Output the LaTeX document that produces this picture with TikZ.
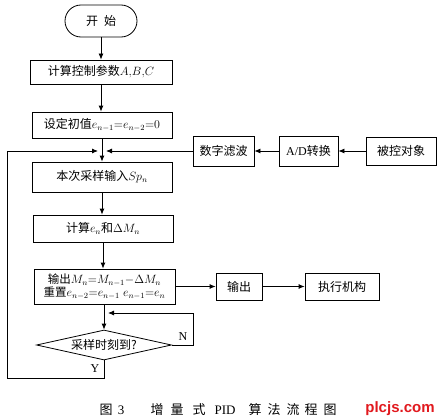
\documentclass[tikz,border=0pt]{standalone}
\usepackage{fontspec}
\setmainfont{Liberation Serif}
\newfontfamily\cjk{Noto Sans CJK SC}
\newfontfamily\websans{Liberation Sans}
\usetikzlibrary{shapes.geometric,arrows.meta}
\definecolor{webred}{RGB}{225,25,30}
\begin{document}
\begin{tikzpicture}[x=1pt,y=-1pt,
  box/.style={draw,line width=0.8pt,inner sep=0pt,font=\cjk\fontsize{12}{15}\selectfont},
  arr/.style={-{Latex[length=6pt,width=5pt]},line width=0.8pt},
  lbl/.style={inner sep=0pt,font=\rmfamily\fontsize{12}{14}\selectfont},
  captext/.style={inner sep=0pt,font=\cjk\fontsize{13}{15}\selectfont}]
\useasboundingbox (0,0) rectangle (442,420);
% main column
\node[box,rounded corners=16pt,minimum width=72pt,minimum height=32pt] (start) at (101,21) {开\hspace{6pt}始};
\node[box,minimum width=142pt,minimum height=24pt] (b1) at (101,72) {计算控制参数$A{,}B{,}C$};
\node[box,minimum width=140pt,minimum height=26pt] (b2) at (102,125) {设定初值$e_{n-1}{=}e_{n-2}{=}0$};
\node[box,minimum width=140pt,minimum height=30pt] (b3) at (102,177) {本次采样输入$Sp_n$};
\node[box,minimum width=140pt,minimum height=27pt] (b4) at (103,228.5) {计算$e_n$和$\Delta M_n$};
\node[box,minimum width=141pt,minimum height=35pt,align=center,font=\cjk\fontsize{11.5}{14}\selectfont] (b5) at (104.5,286.5) {输出$M_n{=}M_{n-1}{-}\Delta M_n$\\[-1pt]重置$e_{n-2}{=}e_{n-1}\;e_{n-1}{=}e_n$};
\node[box,diamond,aspect=4.5,minimum width=135pt,minimum height=30pt] (dia) at (104,345) {采样时刻到?};
% right side
\node[box,minimum width=61pt,minimum height=30pt] (filt) at (223.5,151) {数字滤波};
\node[box,minimum width=59pt,minimum height=30pt] (ad) at (308.5,151) {{\rmfamily A/D}转换};
\node[box,minimum width=70pt,minimum height=28pt] (plant) at (401,151) {被控对象};
\node[box,minimum width=46pt,minimum height=27pt] (outb) at (239,286.5) {输出};
\node[box,minimum width=74pt,minimum height=27pt] (act) at (342,286.5) {执行机构};
% junction coordinates
\coordinate (j1l) at (98,151);
\coordinate (j1r) at (106,151);
\coordinate (j2r) at (108,313);
\coordinate (ly) at (7,378);
\coordinate (nx) at (193,330);
% connectors
\draw[arr] (start.south) -- (b1.north);
\draw[arr] (b1.south) -- (b1.south |- b2.north);
\draw[arr] (b2.south) -- (b3.north);
\draw[arr] (b3.south) -- (b3.south |- b4.north);
\draw[arr] (b4.south) -- (b4.south |- b5.north);
\draw[arr] (dia.north |- b5.south) -- (dia.north);
\draw[arr] (dia.south) |- (ly) |- (j1l);
\draw[arr] (filt.west) -- (j1r);
\draw[arr] (dia.east) -- (dia.east -| nx) |- (j2r);
\draw[arr] (plant.west) -- (ad.east);
\draw[arr] (ad.west) -- (filt.east);
\draw[arr] (b5.east) -- (outb.west);
\draw[arr] (outb.east) -- (act.west);
\node[lbl] (nl) at (183,337) {N};
\node[lbl] (yl) at (95,369) {Y};
% caption
\node[captext] (c1) at (106,410) {图};
\node[captext,font=\rmfamily\fontsize{13}{15}\selectfont] (c2) at (121,410) {3};
\node[captext] (c3) at (157,410) {增};
\node[captext] (c4) at (177,410) {量};
\node[captext] (c5) at (199,410) {式};
\node[captext,font=\rmfamily\fontsize{13}{15}\selectfont] (c6) at (225,410) {PID};
\node[captext] (c7) at (255,410) {算};
\node[captext] (c8) at (274,410) {法};
\node[captext] (c9) at (293,410) {流};
\node[captext] (c10) at (311,410) {程};
\node[captext] (c11) at (330,410) {图};
\node[inner sep=0pt,text=webred,font=\websans\bfseries\fontsize{15}{17}\selectfont] (web) at (400,409) {plcjs.com};
\end{tikzpicture}
\end{document}
